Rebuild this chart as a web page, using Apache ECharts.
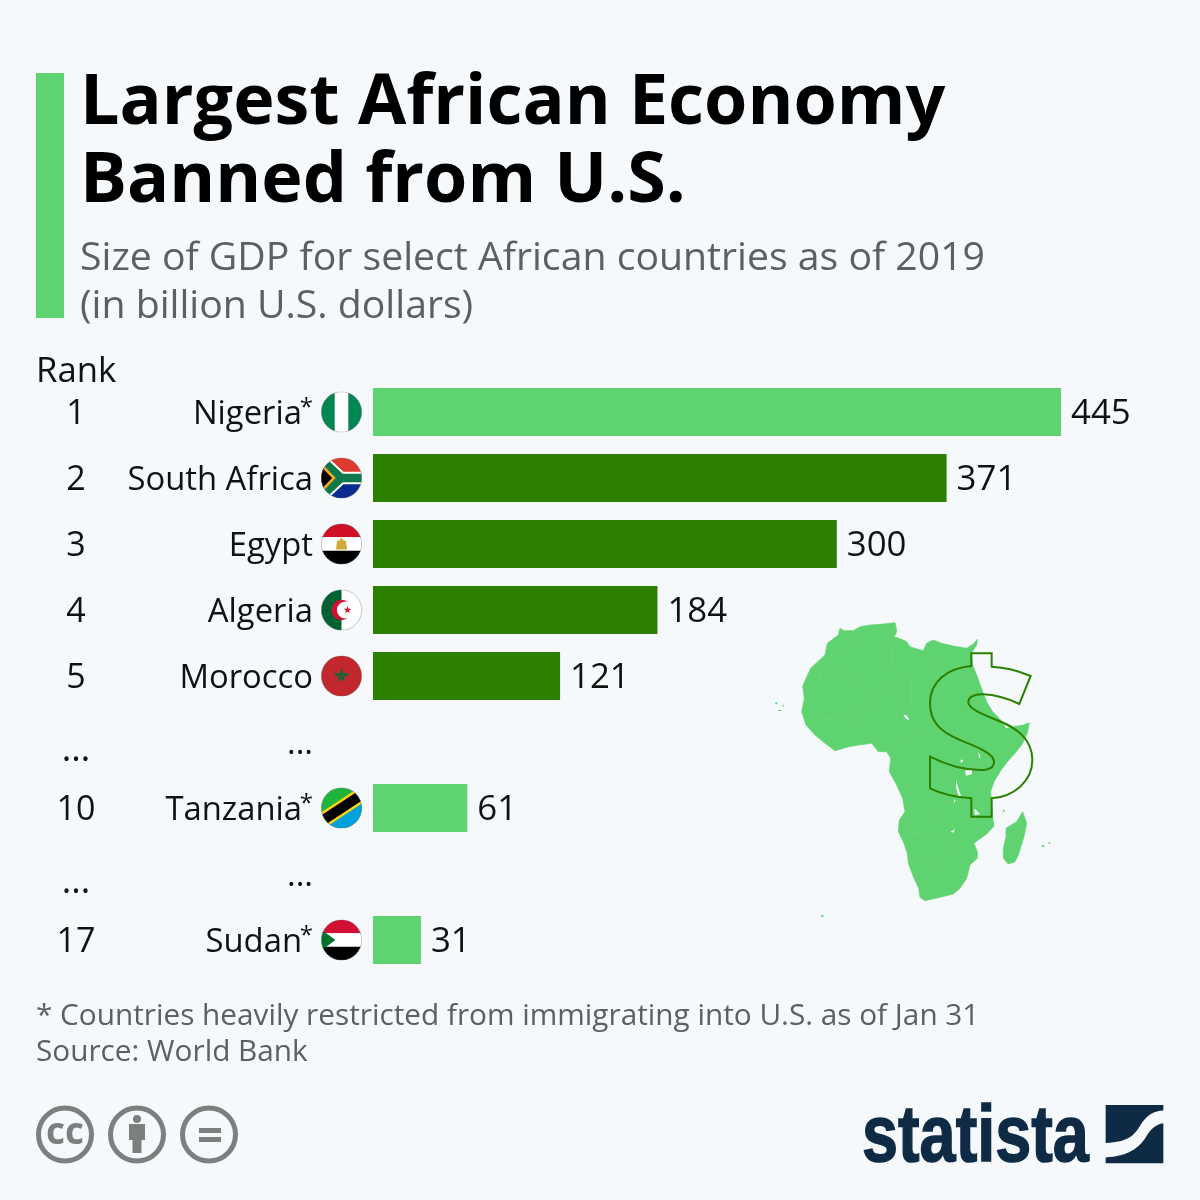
<!DOCTYPE html>
<html>
<head>
<meta charset="utf-8">
<style>html,body{margin:0;padding:0;background:#f5f9fc}#chart{width:1200px;height:1200px}</style>
<script src="https://cdn.jsdelivr.net/npm/echarts@6/dist/echarts.min.js"></script>
</head>
<body>
<div id="chart"></div>
<script>
// data
const ranks = ['1', '2', '3', '4', '5', '...', '10', '...', '17'];
const countries = ['Nigeria', 'South Africa', 'Egypt', 'Algeria', 'Morocco', '...', 'Tanzania', '...', 'Sudan'];
const gdp = [445, 371, 300, 184, 121, null, 61, null, 31];
const restricted = [true, false, false, false, false, false, true, false, true];

const LIGHT = '#5fd36f';
const DARK = '#2c8000';
const INK = '#111';
const FONT = '"Open Sans", sans-serif';

function svgUri(svg) {
	return 'data:image/svg+xml;charset=utf-8,' + encodeURIComponent(svg);
}

function flagUri(body) {
	return svgUri('<svg xmlns="http://www.w3.org/2000/svg" width="164" height="164" viewBox="0 0 41 41">' +
		'<defs><clipPath id="c"><circle cx="20.5" cy="20.5" r="20.2"/></clipPath></defs>' +
		'<g clip-path="url(#c)">' + body + '</g>' +
		'<circle cx="20.5" cy="20.5" r="20.2" fill="none" stroke="#777" stroke-width="0.4"/></svg>');
}

const flags = {
	'Nigeria': '<rect width="41" height="41" fill="#fff"/><rect width="13.7" height="41" fill="#008751"/><rect x="27.3" width="13.7" height="41" fill="#008751"/>',
	'South Africa': '<rect width="41" height="20.5" fill="#de3a2f"/><rect y="20.5" width="41" height="20.5" fill="#0a2a8f"/>' +
		'<path d="M0 0 L20 20.5 L0 41 Z" fill="#000"/><path d="M-2 0 L20 20.5 L-2 41 M20 20.5 H41" fill="none" stroke="#fff" stroke-width="12.5"/>' +
		'<path d="M-2 0 L20 20.5 L-2 41 M20 20.5 H41" fill="none" stroke="#0e7a4b" stroke-width="8.5"/>' +
		'<path d="M-1 6 L13 20.5 L-1 35 Z" fill="#000" stroke="#f6a81c" stroke-width="2.6"/>',
	'Egypt': '<rect width="41" height="13.7" fill="#ce1126"/><rect y="13.7" width="41" height="13.7" fill="#fff"/><rect y="27.3" width="41" height="13.7" fill="#000"/>' +
		'<path d="M20.5 14 L22.5 17 L25 17.5 L26 26 L15 26 L16 17.5 L18.5 17 Z" fill="#cfa93c"/>',
	'Algeria': '<rect width="41" height="41" fill="#fff"/><rect width="20.5" height="41" fill="#006233"/>' +
		'<circle cx="20.5" cy="20.5" r="10.2" fill="#d21034"/><circle cx="24.5" cy="20.5" r="8.6" fill="#fff"/>' +
		'<path d="M26.5 16.5 L27.4 19.3 L30.3 19.3 L28 21 L28.9 23.7 L26.5 22 L24.1 23.7 L25 21 L22.7 19.3 L25.6 19.3 Z" fill="#d21034"/>',
	'Morocco': '<rect width="41" height="41" fill="#c1272d"/>' +
		'<path d="M20.5 14.5 L22.6 24.5 L14.5 18.5 L26.5 18.5 L18.4 24.5 Z" fill="none" stroke="#0a6b37" stroke-width="1.5"/>',
	'Tanzania': '<rect width="41" height="41" fill="#1eb53a"/><path d="M41 0 V41 H0 Z" fill="#00a3dd"/>' +
		'<path d="M-3 36 L44 5" stroke="#fcd116" stroke-width="15"/><path d="M-3 36 L44 5" stroke="#000" stroke-width="10"/>',
	'Sudan': '<rect width="41" height="13.7" fill="#d21034"/><rect y="13.7" width="41" height="13.7" fill="#fff"/><rect y="27.3" width="41" height="13.7" fill="#000"/>' +
		'<path d="M0 10 L14.5 20.5 L0 31 Z" fill="#007229"/>'
};

// one rich style per flag, the axis label picks it by country
const labelRich = {
	name: { fontFamily: FONT, fontSize: 32.8, color: INK, padding: [6, 0, 0, 0] },
	sup: { fontFamily: FONT, fontSize: 24, color: INK, width: 11, padding: [0, 0, 8, 0] },
	gap: { width: 8 },
	dotsGap: { width: 49 },
	dots: { fontFamily: FONT, fontSize: 33, color: INK, padding: [6, 0, 0, 0] }
};
countries.forEach(function (c, i) {
	if (flags[c]) {
		labelRich['flag' + i] = { width: 41, height: 41, backgroundColor: { image: flagUri(flags[c]) } };
	}
});

const africaSvg = '<svg xmlns="http://www.w3.org/2000/svg" width="900" height="930" viewBox="0 0 900 930">' +
	'<path fill="' + LIGHT + '" stroke="' + LIGHT + '" stroke-width="2" stroke-linejoin="round" d="M210 55 L222 62 L250 62 L270 50 L300 45 L340 42 L375 38 L380 60 L378 72 L372 80 L395 88 L410 95 L420 110 L445 118 L460 122 L470 100 L490 90 L515 100 L550 108 L590 115 L610 102 L622 88 L620 105 L604 130 L608 165 L620 195 L638 245 L650 275 L668 305 L700 338 L730 350 L760 345 L778 338 L772 370 L755 405 L735 430 L712 455 L690 485 L672 515 L662 545 L665 580 L668 620 L672 648 L650 672 L625 690 L612 700 L622 725 L622 745 L600 765 L595 785 L590 805 L570 835 L550 852 L510 862 L465 872 L450 862 L446 835 L430 800 L415 760 L412 730 L400 695 L385 665 L388 630 L405 605 L398 565 L380 525 L358 485 L362 445 L350 425 L325 425 L305 400 L265 405 L230 412 L195 422 L165 400 L135 375 L108 345 L95 305 L103 265 L98 228 L122 175 L165 135 L172 100 L205 75 Z"/>' +
	'<path fill="' + LIGHT + '" stroke="' + LIGHT + '" stroke-width="2" stroke-linejoin="round" d="M758 605 L770 640 L762 680 L745 735 L735 755 L715 762 L700 745 L700 715 L708 680 L708 655 L740 635 Z"/>' +
	'<g fill="' + LIGHT + '"><rect x="16" y="277" width="6" height="5"/><rect x="24" y="300" width="10" height="3"/><rect x="38" y="284" width="3" height="6"/><rect x="815" y="706" width="8" height="5"/><rect x="836" y="696" width="5" height="5"/><rect x="154" y="915" width="6" height="6"/><rect x="698" y="600" width="6" height="5"/></g>' +
	// faint borders
	'<path fill="none" stroke="#8be098" stroke-opacity="0.45" stroke-width="1.5" d="M183 160 L315 255 L385 205 M250 62 L255 105 L183 140 M365 100 L365 180 L425 210 L425 285 L405 320 M517 130 L517 245 M310 255 L310 295 L225 320 L150 330 M405 390 L500 350 M410 665 L500 680 L555 720 L480 775 L470 740 M490 600 L490 650 M180 140 V170 M150 175 V210 M240 350 H290"/>' +
	// lakes
	'<g fill="#f5f9fc"><path d="M400 313 L412 318 L418 330 L407 327 Z"/><path d="M585 482 L606 478 L606 492 L588 497 Z"/><path d="M558 510 L565 535 L573 558 L566 558 L558 535 Z"/><path d="M552 568 L558 572 L552 578 Z"/><path d="M612 595 L630 612 L615 616 Z"/><path d="M542 665 L555 657 L550 668 Z"/><path d="M572 448 L580 452 L572 460 Z"/><path d="M625 425 L632 440 L627 445 Z"/><path d="M700 340 L720 352 L708 354 Z"/></g>' +
	// dollar sign
	'<path fill="none" stroke="' + DARK + '" stroke-width="6" d="M604 130 H665 V170 C705 172 745 182 782 198 L748 282 C710 264 675 254 640 253 C610 252 595 262 595 276 C595 295 630 310 680 330 C745 355 787 390 787 450 C787 515 730 560 665 565 V620 H604 V565 C560 562 515 552 480 535 V440 C530 465 585 480 630 480 C660 480 672 470 672 455 C672 430 620 410 570 390 C510 365 480 335 480 280 C480 215 530 175 604 168 Z"/>' +
	'</svg>';

const logoSvg = '<svg xmlns="http://www.w3.org/2000/svg" width="180" height="180" viewBox="0 0 180 180">' +
	'<path fill="#0f2a44" d="M2 0 H178 V17 C150 18 128 30 108 62 C90 92 72 113 2 116 Z"/>' +
	'<path fill="#0f2a44" d="M178 56 V178 H2 V160 C70 158 105 130 125 98 C140 72 155 60 178 56 Z"/></svg>';

const ICON = '#7a807e';
function ccRing(cx) {
	return { type: 'circle', shape: { cx: cx, cy: 1134.5, r: 26.5 }, style: { fill: 'none', stroke: ICON, lineWidth: 5 } };
}

const chart = echarts.init(document.getElementById('chart'));
chart.setOption({
	backgroundColor: '#f5f9fc',
	animation: false,
	title: {
		text: 'Largest African Economy\nBanned from U.S.',
		left: 80,
		top: 65,
		padding: 0,
		itemGap: 14,
		textStyle: { fontFamily: FONT, fontWeight: 'bold', fontSize: 70, lineHeight: 78, color: '#000' },
		subtext: 'Size of GDP for select African countries as of 2019\n(in billion U.S. dollars)',
		subtextStyle: { fontFamily: FONT, fontSize: 39.2, lineHeight: 48, color: '#5a6064' }
	},
	grid: { left: 373, top: 379, width: 688, height: 594 },
	xAxis: { type: 'value', min: 0, max: 445, show: false },
	yAxis: [{
		type: 'category',
		inverse: true,
		data: countries,
		axisLine: { show: false },
		axisTick: { show: false },
		axisLabel: {
			margin: 11,
			interval: 0,
			rich: labelRich,
			formatter: function (value, i) {
				if (value === '...') {
					return '{dots|...}{dotsGap|}';
				}
				return '{name|' + value + '}' + (restricted[i] ? '{sup|*}' : '') + '{gap|}{flag' + i + '|}';
			}
		}
	}, {
		type: 'category',
		inverse: true,
		position: 'left',
		data: ranks,
		axisLine: { show: false },
		axisTick: { show: false },
		axisLabel: {
			margin: 297,
			align: 'center',
			interval: 0,
			rich: {
				rank: { fontFamily: FONT, fontSize: 34, color: INK, padding: [4, 0, 0, 0] },
				rankDots: { fontFamily: FONT, fontSize: 36, color: INK, padding: [18, 0, 0, 0] }
			},
			formatter: function (value) {
				return value === '...' ? '{rankDots|...}' : '{rank|' + value + '}';
			}
		}
	}],
	series: [{
		type: 'bar',
		barWidth: 48,
		data: gdp.map(function (v, i) {
			return { value: v, itemStyle: { color: restricted[i] ? LIGHT : DARK } };
		}),
		label: { show: true, position: 'right', distance: 10, offset: [0, 2.5], fontFamily: FONT, fontSize: 34.8, color: INK }
	}],
	graphic: [
		{ type: 'rect', shape: { x: 36, y: 73, width: 28, height: 245 }, style: { fill: LIGHT } },
		{ type: 'text', x: 36, y: 355, style: { text: 'Rank', fontFamily: FONT, fontSize: 34.7, fill: INK } },
		{ type: 'image', x: 770, y: 610, style: { image: svgUri(africaSvg), width: 300, height: 310 } },
		{ type: 'text', x: 36, y: 999, style: { text: '* Countries heavily restricted from immigrating into U.S. as of Jan 31\nSource: World Bank', fontFamily: FONT, fontSize: 29.75, lineHeight: 36, fill: '#5a6064' } },
		ccRing(65), ccRing(137), ccRing(209),
		{ type: 'text', x: 65, y: 1133, style: { text: 'cc', fontFamily: FONT, fontWeight: 'bold', fontSize: 37, fill: ICON, align: 'center', verticalAlign: 'middle' } },
		{ type: 'circle', shape: { cx: 137, cy: 1119, r: 4 }, style: { fill: ICON } },
		{ type: 'rect', shape: { x: 129, y: 1124, width: 16, height: 16 }, style: { fill: ICON } },
		{ type: 'rect', shape: { x: 132.5, y: 1130, width: 9, height: 23 }, style: { fill: ICON } },
		{ type: 'rect', shape: { x: 199, y: 1128, width: 22, height: 5 }, style: { fill: ICON } },
		{ type: 'rect', shape: { x: 199, y: 1137, width: 22, height: 5 }, style: { fill: ICON } },
		{ type: 'text', x: 862, y: 1099, scaleX: 0.81, style: { text: 'statista', fontFamily: '"Liberation Sans", sans-serif', fontWeight: 'bold', fontSize: 80, fill: '#0f2a44', stroke: '#0f2a44', lineWidth: 1.5 } },
		{ type: 'image', x: 1105, y: 1105, style: { image: svgUri(logoSvg), width: 59, height: 59 } }
	]
});
</script>
</body>
</html>
